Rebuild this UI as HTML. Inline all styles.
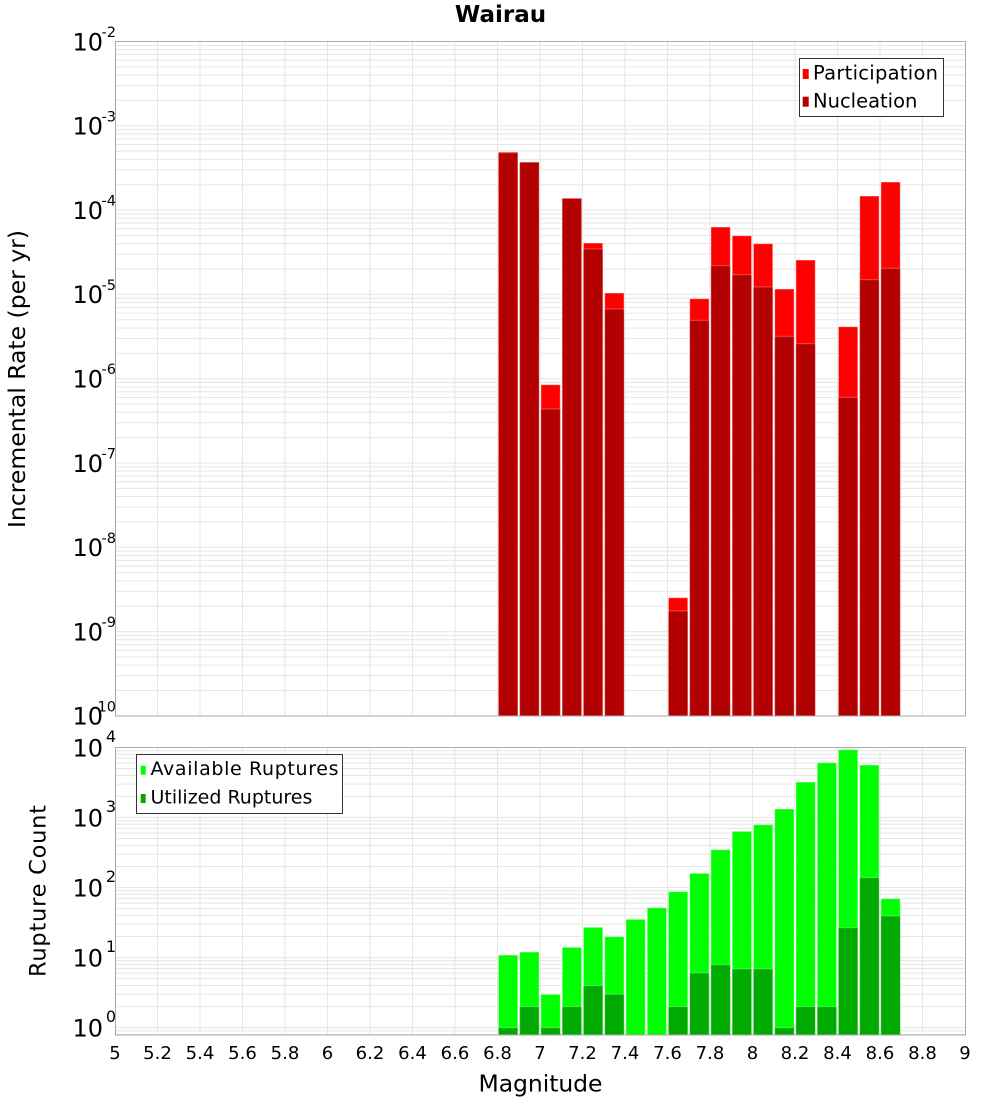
<!DOCTYPE html>
<html>
<head>
<meta charset="utf-8">
<style>
html,body{margin:0;padding:0;background:#fff;}
svg{display:block;}
text{font-family:"DejaVu Sans","Liberation Sans",sans-serif;fill:#000;}
</style>
</head>
<body>
<svg width="1000" height="1100" viewBox="0 0 1000 1100" xmlns="http://www.w3.org/2000/svg">
<defs>
  <g id="gt" stroke="#e6e6e6" stroke-width="1">
    <line x1="115" x2="965" y1="3.857" y2="3.857"/>
    <line x1="115" x2="965" y1="8.170" y2="8.170"/>
    <line x1="115" x2="965" y1="13.058" y2="13.058"/>
    <line x1="115" x2="965" y1="18.702" y2="18.702"/>
    <line x1="115" x2="965" y1="25.377" y2="25.377"/>
    <line x1="115" x2="965" y1="33.546" y2="33.546"/>
    <line x1="115" x2="965" y1="44.079" y2="44.079"/>
    <line x1="115" x2="965" y1="58.923" y2="58.923"/>
    <line x1="115" x2="965" y1="84.3" y2="84.3"/>
  </g>
  <g id="gb" stroke="#e6e6e6" stroke-width="1">
    <line x1="115" x2="965" y1="3.205" y2="3.205"/>
    <line x1="115" x2="965" y1="6.789" y2="6.789"/>
    <line x1="115" x2="965" y1="10.851" y2="10.851"/>
    <line x1="115" x2="965" y1="15.540" y2="15.540"/>
    <line x1="115" x2="965" y1="21.087" y2="21.087"/>
    <line x1="115" x2="965" y1="27.876" y2="27.876"/>
    <line x1="115" x2="965" y1="36.628" y2="36.628"/>
    <line x1="115" x2="965" y1="48.963" y2="48.963"/>
    <line x1="115" x2="965" y1="70.05" y2="70.05"/>
  </g>
  <g id="vg" stroke="#e6e6e6" stroke-width="1">
    <line x1="157.5" x2="157.5"/><line x1="200" x2="200"/><line x1="242.5" x2="242.5"/>
    <line x1="285" x2="285"/><line x1="327.5" x2="327.5"/><line x1="370" x2="370"/>
    <line x1="412.5" x2="412.5"/><line x1="455" x2="455"/><line x1="497.5" x2="497.5"/>
    <line x1="540" x2="540"/><line x1="582.5" x2="582.5"/><line x1="625" x2="625"/>
    <line x1="667.5" x2="667.5"/><line x1="710" x2="710"/><line x1="752.5" x2="752.5"/>
    <line x1="795" x2="795"/><line x1="837.5" x2="837.5"/><line x1="880" x2="880"/>
    <line x1="922.5" x2="922.5"/>
  </g>
</defs>

<!-- Title -->
<text x="500.5" y="22" font-size="23" font-weight="bold" text-anchor="middle">Wairau</text>

<!-- ================= TOP PLOT ================= -->
<rect x="115.5" y="41.5" width="850" height="674.5" fill="#fff"/>
<g>
  <g stroke="#e6e6e6" stroke-width="1">
    <line x1="157.5" x2="157.5" y1="41.5" y2="716"/><line x1="200" x2="200" y1="41.5" y2="716"/><line x1="242.5" x2="242.5" y1="41.5" y2="716"/>
    <line x1="285" x2="285" y1="41.5" y2="716"/><line x1="327.5" x2="327.5" y1="41.5" y2="716"/><line x1="370" x2="370" y1="41.5" y2="716"/>
    <line x1="412.5" x2="412.5" y1="41.5" y2="716"/><line x1="455" x2="455" y1="41.5" y2="716"/><line x1="497.5" x2="497.5" y1="41.5" y2="716"/>
    <line x1="540" x2="540" y1="41.5" y2="716"/><line x1="582.5" x2="582.5" y1="41.5" y2="716"/><line x1="625" x2="625" y1="41.5" y2="716"/>
    <line x1="667.5" x2="667.5" y1="41.5" y2="716"/><line x1="710" x2="710" y1="41.5" y2="716"/><line x1="752.5" x2="752.5" y1="41.5" y2="716"/>
    <line x1="795" x2="795" y1="41.5" y2="716"/><line x1="837.5" x2="837.5" y1="41.5" y2="716"/><line x1="880" x2="880" y1="41.5" y2="716"/>
    <line x1="922.5" x2="922.5" y1="41.5" y2="716"/>
  </g>
  <use href="#gt" transform="translate(0,41.5)"/>
  <use href="#gt" transform="translate(0,125.8)"/>
  <use href="#gt" transform="translate(0,210.1)"/>
  <use href="#gt" transform="translate(0,294.4)"/>
  <use href="#gt" transform="translate(0,378.7)"/>
  <use href="#gt" transform="translate(0,463.0)"/>
  <use href="#gt" transform="translate(0,547.3)"/>
  <use href="#gt" transform="translate(0,631.6)"/>
</g>

<!-- participation (red) -->
<g fill="#ff0000" stroke="rgba(255,255,255,0.45)" stroke-width="1">
  <rect x="498.4" y="152" width="19.4" height="564"/>
  <rect x="519.7" y="162" width="19.4" height="554"/>
  <rect x="540.9" y="384.7" width="19.4" height="331.3"/>
  <rect x="562.2" y="198" width="19.4" height="518"/>
  <rect x="583.4" y="243" width="19.4" height="473"/>
  <rect x="604.7" y="293" width="19.4" height="423"/>
  <rect x="668.4" y="597.7" width="19.4" height="118.3"/>
  <rect x="689.7" y="298.7" width="19.4" height="417.3"/>
  <rect x="710.9" y="227" width="19.4" height="489"/>
  <rect x="732.2" y="235.7" width="19.4" height="480.3"/>
  <rect x="753.4" y="243.7" width="19.4" height="472.3"/>
  <rect x="774.7" y="289" width="19.4" height="427"/>
  <rect x="795.9" y="260" width="19.4" height="456"/>
  <rect x="838.4" y="326.7" width="19.4" height="389.3"/>
  <rect x="859.7" y="196" width="19.4" height="520"/>
  <rect x="880.9" y="182" width="19.4" height="534"/>
</g>
<!-- nucleation (dark red) -->
<g fill="#b30000" stroke="rgba(255,255,255,0.3)" stroke-width="1">
  <rect x="498.4" y="152.8" width="19.4" height="563.2"/>
  <rect x="519.7" y="162.3" width="19.4" height="553.7"/>
  <rect x="540.9" y="409" width="19.4" height="307"/>
  <rect x="562.2" y="198.5" width="19.4" height="517.5"/>
  <rect x="583.4" y="249" width="19.4" height="467"/>
  <rect x="604.7" y="309" width="19.4" height="407"/>
  <rect x="668.4" y="611" width="19.4" height="105"/>
  <rect x="689.7" y="320.3" width="19.4" height="395.7"/>
  <rect x="710.9" y="265.7" width="19.4" height="450.3"/>
  <rect x="732.2" y="274.7" width="19.4" height="441.3"/>
  <rect x="753.4" y="287" width="19.4" height="429"/>
  <rect x="774.7" y="336.3" width="19.4" height="379.7"/>
  <rect x="795.9" y="343.7" width="19.4" height="372.3"/>
  <rect x="838.4" y="397.3" width="19.4" height="318.7"/>
  <rect x="859.7" y="279.7" width="19.4" height="436.3"/>
  <rect x="880.9" y="268.3" width="19.4" height="447.7"/>
</g>
<rect x="115.5" y="41.5" width="850" height="674.5" fill="none" stroke="#aaaaaa" stroke-width="1"/>

<!-- top legend -->
<rect x="799.5" y="58.5" width="144" height="58" fill="#fff" stroke="#333" stroke-width="1"/>
<rect x="802.7" y="69" width="6" height="10" fill="#ff0000"/>
<rect x="802.7" y="96.7" width="6" height="10" fill="#b30000"/>
<text x="813" y="79.3" font-size="19.5" textLength="125" lengthAdjust="spacing">Participation</text>
<text x="813" y="107.3" font-size="19.5">Nucleation</text>

<!-- top y tick labels -->
<g font-size="24" text-anchor="end">
  <text x="103" y="50.3">10</text>
  <text x="103" y="134.6">10</text>
  <text x="103" y="218.9">10</text>
  <text x="103" y="303.2">10</text>
  <text x="103" y="387.5">10</text>
  <text x="103" y="471.8">10</text>
  <text x="103" y="556.1">10</text>
  <text x="103" y="640.4">10</text>
  <text x="103" y="724.7">10</text>
</g>
<g font-size="14.5" text-anchor="end">
  <text x="116" y="37">-2</text>
  <text x="116" y="121.3">-3</text>
  <text x="116" y="205.6">-4</text>
  <text x="116" y="289.9">-5</text>
  <text x="116" y="374.2">-6</text>
  <text x="116" y="458.5">-7</text>
  <text x="116" y="542.8">-8</text>
  <text x="116" y="627.1">-9</text>
  <text x="116" y="711.4">-10</text>
</g>
<text transform="translate(25,379) rotate(-90)" font-size="23.5" text-anchor="middle" textLength="298" lengthAdjust="spacing">Incremental Rate (per yr)</text>

<!-- ================= BOTTOM PLOT ================= -->
<rect x="115.5" y="747.5" width="850" height="287.5" fill="#fff"/>
<g>
  <g stroke="#e6e6e6" stroke-width="1">
    <line x1="157.5" x2="157.5" y1="747.5" y2="1035"/><line x1="200" x2="200" y1="747.5" y2="1035"/><line x1="242.5" x2="242.5" y1="747.5" y2="1035"/>
    <line x1="285" x2="285" y1="747.5" y2="1035"/><line x1="327.5" x2="327.5" y1="747.5" y2="1035"/><line x1="370" x2="370" y1="747.5" y2="1035"/>
    <line x1="412.5" x2="412.5" y1="747.5" y2="1035"/><line x1="455" x2="455" y1="747.5" y2="1035"/><line x1="497.5" x2="497.5" y1="747.5" y2="1035"/>
    <line x1="540" x2="540" y1="747.5" y2="1035"/><line x1="582.5" x2="582.5" y1="747.5" y2="1035"/><line x1="625" x2="625" y1="747.5" y2="1035"/>
    <line x1="667.5" x2="667.5" y1="747.5" y2="1035"/><line x1="710" x2="710" y1="747.5" y2="1035"/><line x1="752.5" x2="752.5" y1="747.5" y2="1035"/>
    <line x1="795" x2="795" y1="747.5" y2="1035"/><line x1="837.5" x2="837.5" y1="747.5" y2="1035"/><line x1="880" x2="880" y1="747.5" y2="1035"/>
    <line x1="922.5" x2="922.5" y1="747.5" y2="1035"/>
    <line x1="115" x2="965" y1="1030.86" y2="1030.86"/>
    <line x1="115" x2="965" y1="1034.4" y2="1034.4"/>
  </g>
  <use href="#gb" transform="translate(0,747.45)"/>
  <use href="#gb" transform="translate(0,817.5)"/>
  <use href="#gb" transform="translate(0,887.55)"/>
  <use href="#gb" transform="translate(0,957.6)"/>
</g>

<!-- available (bright green) -->
<g fill="#00ff00" stroke="rgba(255,255,255,0.45)" stroke-width="1">
  <rect x="498.4" y="955" width="19.4" height="80"/>
  <rect x="519.7" y="952" width="19.4" height="83"/>
  <rect x="540.9" y="994.3" width="19.4" height="40.7"/>
  <rect x="562.2" y="947.3" width="19.4" height="87.7"/>
  <rect x="583.4" y="927.3" width="19.4" height="107.7"/>
  <rect x="604.7" y="936.7" width="19.4" height="98.3"/>
  <rect x="625.9" y="919.3" width="19.4" height="115.7"/>
  <rect x="647.2" y="907.7" width="19.4" height="127.3"/>
  <rect x="668.4" y="891.7" width="19.4" height="143.3"/>
  <rect x="689.7" y="873.3" width="19.4" height="161.7"/>
  <rect x="710.9" y="849.7" width="19.4" height="185.3"/>
  <rect x="732.2" y="831.3" width="19.4" height="203.7"/>
  <rect x="753.4" y="824.7" width="19.4" height="210.3"/>
  <rect x="774.7" y="809" width="19.4" height="226"/>
  <rect x="795.9" y="782" width="19.4" height="253"/>
  <rect x="817.2" y="762.7" width="19.4" height="272.3"/>
  <rect x="838.4" y="749.7" width="19.4" height="285.3"/>
  <rect x="859.7" y="765" width="19.4" height="270"/>
  <rect x="880.9" y="898.7" width="19.4" height="136.3"/>
</g>
<!-- utilized (dark green) -->
<g fill="#00aa00" stroke="rgba(255,255,255,0.3)" stroke-width="1">
  <rect x="498.4" y="1027.7" width="19.4" height="7.3"/>
  <rect x="519.7" y="1006.7" width="19.4" height="28.3"/>
  <rect x="540.9" y="1027.7" width="19.4" height="7.3"/>
  <rect x="562.2" y="1006.7" width="19.4" height="28.3"/>
  <rect x="583.4" y="985.7" width="19.4" height="49.3"/>
  <rect x="604.7" y="994.3" width="19.4" height="40.7"/>
  <rect x="668.4" y="1006.7" width="19.4" height="28.3"/>
  <rect x="689.7" y="973" width="19.4" height="62"/>
  <rect x="710.9" y="964.7" width="19.4" height="70.3"/>
  <rect x="732.2" y="969" width="19.4" height="66"/>
  <rect x="753.4" y="969" width="19.4" height="66"/>
  <rect x="774.7" y="1027.7" width="19.4" height="7.3"/>
  <rect x="795.9" y="1006.7" width="19.4" height="28.3"/>
  <rect x="817.2" y="1006.7" width="19.4" height="28.3"/>
  <rect x="838.4" y="927.7" width="19.4" height="107.3"/>
  <rect x="859.7" y="877.7" width="19.4" height="157.3"/>
  <rect x="880.9" y="916" width="19.4" height="119"/>
</g>
<rect x="115.5" y="747.5" width="850" height="287.5" fill="none" stroke="#aaaaaa" stroke-width="1"/>

<!-- bottom legend -->
<rect x="136.5" y="754.5" width="206" height="59" fill="#fff" stroke="#333" stroke-width="1"/>
<rect x="140.7" y="765.7" width="5" height="9" fill="#00ff00"/>
<rect x="140.7" y="794" width="5" height="9" fill="#00aa00"/>
<text x="150.5" y="775" font-size="19" textLength="188" lengthAdjust="spacing">Available Ruptures</text>
<text x="150.5" y="803.3" font-size="19">Utilized Ruptures</text>

<!-- bottom y tick labels -->
<g font-size="24" text-anchor="end">
  <text x="103" y="756.5">10</text>
  <text x="103" y="826.5">10</text>
  <text x="103" y="896.5">10</text>
  <text x="103" y="966.5">10</text>
  <text x="103" y="1036.5">10</text>
</g>
<g font-size="16" text-anchor="end">
  <text x="116" y="741.8">4</text>
  <text x="116" y="811.8">3</text>
  <text x="116" y="881.8">2</text>
  <text x="116" y="951.8">1</text>
  <text x="116" y="1021.8">0</text>
</g>
<text transform="translate(45.5,891) rotate(-90)" font-size="22.5" text-anchor="middle" textLength="172" lengthAdjust="spacing">Rupture Count</text>

<!-- x tick labels -->
<g font-size="18" text-anchor="middle">
  <text x="115" y="1059">5</text>
  <text x="157.5" y="1059">5.2</text>
  <text x="200" y="1059">5.4</text>
  <text x="242.5" y="1059">5.6</text>
  <text x="285" y="1059">5.8</text>
  <text x="327.5" y="1059">6</text>
  <text x="370" y="1059">6.2</text>
  <text x="412.5" y="1059">6.4</text>
  <text x="455" y="1059">6.6</text>
  <text x="497.5" y="1059">6.8</text>
  <text x="540" y="1059">7</text>
  <text x="582.5" y="1059">7.2</text>
  <text x="625" y="1059">7.4</text>
  <text x="667.5" y="1059">7.6</text>
  <text x="710" y="1059">7.8</text>
  <text x="752.5" y="1059">8</text>
  <text x="795" y="1059">8.2</text>
  <text x="837.5" y="1059">8.4</text>
  <text x="880" y="1059">8.6</text>
  <text x="922.5" y="1059">8.8</text>
  <text x="965" y="1059">9</text>
</g>
<text x="540.5" y="1091.7" font-size="23.5" text-anchor="middle" textLength="124" lengthAdjust="spacing">Magnitude</text>
</svg>
</body>
</html>
